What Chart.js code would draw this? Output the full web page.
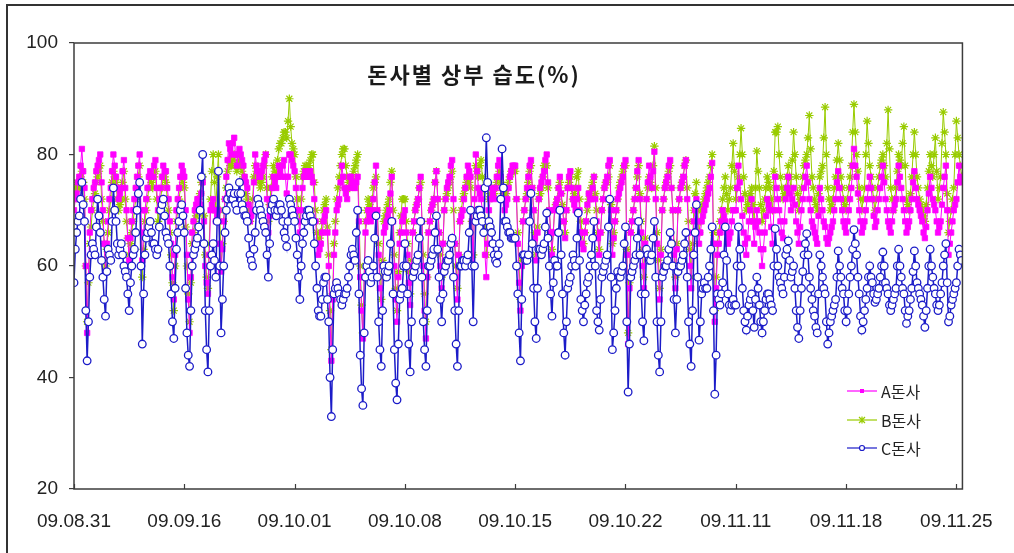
<!DOCTYPE html>
<html>
<head>
<meta charset="utf-8">
<script src="https://cdn.jsdelivr.net/npm/chart.js@4.4.0/dist/chart.umd.min.js"></script>
<style>
  html, body { margin: 0; padding: 0; background: #ffffff; }
  #wrap { width: 1014px; height: 553px; position: relative; }
</style>
</head>
<body>
<div id="wrap"><canvas id="chart" width="1014" height="553"></canvas></div>
<script>
// Date labels under the axis, one every 84 readings (7 days x 12 readings)
const tickLabels = ['09.08.31', '09.09.16', '09.10.01', '09.10.08', '09.10.15', '09.10.22', '09.11.11', '09.11.18', '09.11.25'];
const readingsPerTick = 84;

const seriesNames = ['A돈사', 'B돈사', 'C돈사'];
const chartTitle = '돈사별 상부 습도(%)';

// Upper-level relative humidity (%) per house, one reading every 2 hours
const humidityA = [
  70,72, 73,75, 76,78, 81,77, 74,60, 48,58, 66,70, 72,74, 75,77, 78,79,
  80,75, 70,64, 59,64, 68,72, 74,77, 80,78, 76,74, 72,73, 74,77, 79,74,
  70,65, 61,65, 68,70, 72,74, 76,78, 80,70, 61,66, 70,72, 74,76, 77,76,
  76,78, 79,74, 70,72, 74,76, 78,77, 77,74, 72,68, 64,58, 54,62, 70,72,
  74,76, 78,77,
  76,70, 62,54, 48,58, 66,68, 70,71, 72,72, 71,73, 75,68, 60,57, 55,62,
  70,71, 72,70, 68,69, 70,64, 59,63, 68,72, 76,79, 82,81, 80,82, 83,80,
  78,80, 81,80, 79,78, 76,75, 74,71, 68,69, 70,75, 80,78, 77,76, 76,77,
  78,79, 80,72, 66,69, 72,74, 76,75, 74,76, 78,77, 76,78, 79,76, 73,76,
  80,80, 79,78,
  77,74, 70,68, 66,70, 74,76, 77,76, 76,77, 77,76, 75,72, 68,64, 62,63,
  64,66, 68,69, 70,66, 60,50, 43,54, 62,66, 70,71, 72,75, 78,76, 74,73,
  72,74, 76,76, 75,74, 74,75, 76,68, 58,52, 47,58, 66,68, 70,69, 68,70,
  72,75, 78,70, 62,56, 52,60, 66,67, 68,69, 70,73, 76,68, 60,54, 50,58,
  64,66, 68,69,
  70,66, 62,57, 53,60, 66,68, 70,71, 72,74, 76,68, 60,52, 47,58, 66,68,
  70,71, 72,75, 77,72, 66,60, 56,64, 70,72, 74,75, 76,78, 79,72, 64,58,
  54,62, 68,69, 70,72, 74,76, 78,77, 76,68, 60,72, 80,77, 74,73, 72,70,
  68,62, 58,64, 70,72, 74,73, 72,74, 76,78, 79,76, 74,72, 70,71, 72,74,
  76,77, 78,78,
  78,72, 64,57, 52,60, 68,70, 72,74, 76,78, 79,74, 70,65, 61,66, 72,74,
  75,76, 77,79, 80,75, 70,66, 62,66, 70,71, 72,74, 76,73, 70,68, 65,70,
  74,76, 77,74, 72,71, 70,72, 74,70, 66,64, 63,66, 68,71, 73,72, 72,74,
  76,72, 68,65, 62,66, 70,72, 74,75, 76,78, 79,70, 62,65, 68,70, 72,73,
  74,75, 76,78,
  79,62, 46,56, 66,68, 70,72, 74,77, 79,72, 66,60, 56,64, 72,75, 78,76,
  74,77, 80.5,72, 64,58, 54,62, 70,72, 74,75, 76,78, 79,74, 70,62, 56,63,
  70,72, 74,75, 76,78, 79,72, 66,60, 56,62, 68,70, 72,68, 64,66, 68,69,
  70,71, 72,73, 74,76, 78.5,64, 50,56, 62,64, 66,68, 70,69, 68,66, 64,65,
  66,68, 70,70,
  70,74, 78,75, 72,69, 66,64, 62,65, 68,70, 72,68, 64,67, 70,68, 66,63,
  60,63, 66,69, 72,71, 70,67, 64,70, 76,74, 72,70, 68,66, 65,68, 72,74,
  76,73, 70,72, 74,71, 68,66, 64,67, 70,72, 74,76, 78,75, 72,70, 68,67,
  66,65, 64,69, 74,72, 70,68, 67,65, 64,65, 66,67, 68,70, 72,75, 77,74,
  72,70, 68,67,
  66,68, 70,72, 74,78, 81,78, 76,73, 70,68, 66,67, 68,70, 72,74, 76,74,
  72,69, 67,68, 70,72, 74,76, 78,75, 72,70, 68,67, 66,68, 70,71, 72,75,
  78,76, 74,72, 70,68, 66,67, 68,70, 72,75, 77,74, 72,71, 70,69, 68,66,
  65,67, 70,73, 76,74, 72,71, 70,68, 66,67, 68,71, 74,76, 78,70, 62,64,
  66,68, 70,71, 72,75, 78,76, 75
];

const humidityB = [
  72,74, 75,74, 74,76, 77,75, 72,60, 50,57, 64,67, 70,72, 73,75, 76,77,
  78,72, 68,64, 60,63, 66,70, 72,75, 77,76, 75,72, 70,71, 72,75, 77,72,
  68,65, 62,64, 66,68, 70,72, 74,76, 78,66, 58,63, 68,70, 72,74, 76,75,
  74,76, 77,72, 68,70, 72,74, 76,76, 75,72, 70,66, 62,57, 52,60, 68,70,
  72,74, 76,75,
  74,67, 60,55, 50,57, 64,66, 68,69, 70,72, 73,75, 76,69, 62,58, 56,64,
  72,77, 80,75, 70,76, 80,70, 60,64, 68,72, 74,77, 79,78, 78,79, 80,78,
  77,78, 79,78, 77,76, 75,73, 72,70, 68,70, 72,76, 78,77, 76,75, 74,75,
  76,78, 80,74, 68,71, 74,76, 78,77, 76,79, 81,82, 82,83, 84,84, 83,86,
  90,85, 82,81,
  80,76, 72,70, 68,72, 76,77, 78,78, 77,78, 79,80, 80,75, 70,66, 64,65,
  66,68, 70,71, 72,67, 62,52, 45,55, 64,68, 72,74, 76,78, 80,81, 81,78,
  76,75, 74,75, 76,77, 78,79, 80,70, 60,53, 48,58, 68,70, 72,71, 70,72,
  74,75, 76,70, 64,58, 54,61, 68,69, 70,71, 72,75, 77,70, 62,56, 52,59,
  66,69, 72,72,
  72,68, 64,59, 55,61, 66,68, 70,71, 72,74, 75,68, 62,55, 50,58, 66,68,
  70,71, 72,75, 77,72, 66,62, 58,64, 70,72, 73,74, 75,76, 77,70, 64,60,
  56,62, 68,70, 72,73, 74,75, 76,75, 74,68, 62,70, 78,77, 76,78, 79,76,
  74,68, 62,67, 72,73, 74,73, 73,74, 75,76, 77,75, 74,73, 72,73, 74,75,
  76,77, 77,77,
  77,72, 66,60, 54,61, 68,70, 72,73, 75,77, 78,74, 70,66, 62,67, 72,73,
  74,76, 78,78, 78,74, 70,66, 63,66, 70,71, 72,74, 75,73, 71,68, 66,70,
  74,75, 76,74, 72,73, 74,76, 77,72, 68,66, 64,66, 68,70, 72,73, 74,75,
  76,73, 70,66, 63,66, 70,72, 74,75, 75,76, 78,71, 64,66, 68,70, 72,74,
  75,76, 77,78,
  78,63, 48,57, 66,68, 70,72, 74,76, 78,73, 68,63, 58,65, 72,74, 76,75,
  74,78, 81.5,74, 66,61, 56,63, 70,72, 74,75, 76,77, 78,74, 70,64, 58,64,
  70,72, 74,75, 76,78, 79,74, 68,63, 58,64, 70,73, 75,70, 66,68, 70,71,
  72,73, 74,75, 76,78, 80,66, 52,58, 64,66, 68,70, 72,74, 76,73, 70,72,
  74,78, 82,77,
  72,74, 76,80, 84.7,80, 76,73, 70,71, 72,73, 74,71, 68,74, 80.6,77, 74,71,
  68,70, 72,74, 76,75, 74,72, 70,77, 84,84, 85,80, 76,74, 72,73, 74,76,
  78,76, 74,79, 84,80, 76,73, 70,72, 74,76, 78,79, 80,83, 87,81, 76,74,
  72,71, 70,73, 76,77, 78,83, 88.5,80, 74,72, 70,71, 72,74, 76,79, 82,79,
  76,74, 72,71,
  70,72, 74,76, 78,84, 89,84, 80,77, 74,72, 70,72, 74,80, 86,82, 78,76,
  74,72, 70,72, 74,76, 78,79, 80,78, 76,82, 88,81, 74,72, 70,72, 74,77,
  80,79, 78,82, 85,78, 72,71, 70,73, 76,80, 84,80, 76,74, 72,71, 70,69,
  68,71, 74,77, 80,78, 76,80, 83,77, 72,74, 76,82, 87.6,84, 80,73, 66,68,
  70,72, 74,80, 86,83, 80,78, 76
];

const humidityC = [
  57,63, 66,68, 69,72, 75,71, 68,52, 43,50, 58,62, 64,63, 62,67, 72,69,
  66,61, 58,54, 51,59, 63,62, 61,68, 74,70, 68,64, 62,63, 64,62, 60,59,
  58,55, 52,57, 60,62, 63,66, 70,73, 75,60, 46,55, 62,65, 66,67, 68,66,
  64,64, 63,62, 63,67, 70,71, 72,69, 66,65, 64,60, 55,50, 47,56, 63,66,
  68,70, 71,69,
  66,56, 48,44, 42,52, 60,62, 63,64, 65,67, 70,76, 80,64, 52,45, 41,52,
  60,62, 64,61, 58,68, 77,60, 48,54, 60,66, 70,72, 74,73, 72,72, 73,71,
  70,73, 75,73, 71,70, 69,69, 68,65, 62,61, 60,63, 66,70, 72,71, 70,69,
  68,67, 66,62, 58,64, 70,71, 72,70, 69,70, 71,71, 70,68, 66,65, 63.5,68,
  72,71, 70,69,
  68,65, 62,58, 54,60, 64,66, 68,69, 70,70, 69,68, 68,64, 60,56, 52,51,
  51,54, 57,58, 58,54, 50,40, 33,45, 55,56, 57,56, 55,54, 53,54, 55,55,
  56,58, 60,62, 63,62, 61,66, 70,55, 44,38, 35,48, 58,60, 61,59, 57,58,
  60,65, 69,58, 50,45, 42,52, 60,59, 58,59, 60,64, 68,55, 45,39, 36,46,
  54,55, 56,60,
  64,60, 55,46, 41,50, 58,59, 60,61, 62,65, 68,58, 50,45, 42,52, 60,60,
  61,62, 63,66, 69,63, 58,54, 50,55, 59,60, 61,61, 62,64, 65,58, 52,46,
  42,52, 60,60, 61,61, 60,61, 62,66, 70,60, 50,60, 68,69, 70,70, 69,68,
  66,74, 83,75, 68,67, 66,64, 62,61, 60.5,62, 64,72, 81,74, 68,68, 67,66,
  66,65, 65,65,
  65,60, 55,48, 43,54, 62,62, 61,61, 62,68, 73,64, 56,50, 47,56, 63,63,
  62,63, 64,67, 69.5,65, 60,55, 51,57, 61,60, 60,66, 70,62, 55,48, 44,50,
  56,57, 58,60, 62,61, 60,65, 69.5,61, 54,52, 50,53, 55,57, 58,60, 62,65,
  68,60, 52,50, 48.5,54, 58,59, 60,61, 62,67, 72,58, 45,48, 52,56, 59,58,
  58,59, 60,64,
  67,50, 37.4,46, 58,59, 60,61, 62,65, 68,62, 55,50, 46.6,55, 63,62, 61,61,
  62,65, 68,58, 50,44, 41,50, 58,59, 60,60, 61,63, 66,64, 60,54, 48,54,
  59,60, 60,61, 62,64, 66,58, 50,46, 42,52, 62,66, 71,58, 46.7,50, 55,56,
  57,56, 56,58, 60,63, 67,52, 37,44, 55,54, 53,55, 57,62, 67,61, 55,53,
  52,53, 54,53,
  53,60, 67,63, 60,56, 52,50, 48.5,51, 53,54, 55,52, 49,54, 58,56, 53,50,
  48,50, 52,54, 55,55, 54,53, 52,60, 66.7,63, 60,58, 57,56, 55,58, 62,63,
  64.5,61, 58,59, 60,56, 52,49, 47,52, 56,59, 62,64, 65.8,62, 58,56, 54,52,
  51,49, 48,55, 62,60, 58,56, 55,50, 46,48, 50,51, 52,53, 54,58, 62.7,60,
  58,56, 55,52,
  50,52, 55,58, 60,63, 66.5,64, 62,58, 55,51, 48.5,50, 52,54, 56,58, 60,58,
  57,55, 53.5,54, 55,56, 58,60, 62.5,60, 57,56, 55,53, 52,53, 54,55, 56,60,
  63,60, 58,56, 55,52, 49.7,51, 52,54, 56,59, 62.7,60, 57,56, 55,54, 53,51,
  49,52, 56,60, 63,60, 58,56, 55,53, 52,53, 55,57, 60,62, 64,57, 50,51,
  53,54, 55,56, 57,60, 63,62, 61
];

const colorA = '#ff00ff';
const colorB = '#99cc00';
const colorC = '#1c1cc8';
const frameColor = '#3c3c3c';
const axisFont = "'Liberation Sans', Arial, sans-serif";
const krFont = "'Noto Sans CJK KR', 'Noto Sans', sans-serif";

const toPoints = arr => arr.map((v, i) => ({ x: i, y: v }));
const lastIndex = humidityA.length - 1;

// Page background, outer frame, plot box, inward x tick marks, title and legend
const decorations = {
  id: 'decorations',
  beforeDraw(chart) {
    const ctx = chart.ctx;
    ctx.save();
    ctx.fillStyle = '#ffffff';
    ctx.fillRect(0, 0, chart.width, chart.height);
    ctx.strokeStyle = '#333333';
    ctx.lineWidth = 2;
    ctx.beginPath();
    ctx.moveTo(7, chart.height);
    ctx.lineTo(7, 5);
    ctx.lineTo(chart.width, 5);
    ctx.stroke();
    ctx.restore();
  },
  afterDraw(chart) {
    const ctx = chart.ctx;
    const area = chart.chartArea;
    const xs = chart.scales.x;
    ctx.save();
    ctx.strokeStyle = frameColor;
    ctx.lineWidth = 1.5;
    ctx.strokeRect(area.left, area.top, area.right - area.left, area.bottom - area.top);
    ctx.lineWidth = 1.2;
    tickLabels.forEach((_, k) => {
      const px = Math.round(xs.getPixelForValue(k * readingsPerTick)) + 0.5;
      ctx.beginPath();
      ctx.moveTo(px, area.bottom);
      ctx.lineTo(px, area.bottom - 5);
      ctx.stroke();
    });

    // title inside the plot box
    ctx.fillStyle = '#1a1a1a';
    ctx.font = '600 22px ' + krFont;
    ctx.letterSpacing = '2px';
    ctx.textAlign = 'center';
    ctx.textBaseline = 'middle';
    ctx.fillText(chartTitle, 474, 75);
    ctx.letterSpacing = '0px';

    // legend in the lower right of the plot box
    const colors = [colorA, colorB, colorC];
    const rows = [391, 420, 448];
    ctx.font = '16px ' + krFont;
    ctx.textAlign = 'left';
    rows.forEach((y, k) => {
      ctx.strokeStyle = colors[k];
      ctx.lineWidth = 1.2;
      ctx.beginPath();
      ctx.moveTo(847, y);
      ctx.lineTo(877, y);
      ctx.stroke();
      const cx = 862;
      if (k === 0) {
        ctx.fillStyle = colors[k];
        ctx.fillRect(cx - 2, y - 2, 4, 4);
      } else if (k === 1) {
        ctx.beginPath();
        ctx.moveTo(cx - 3, y - 3); ctx.lineTo(cx + 3, y + 3);
        ctx.moveTo(cx + 3, y - 3); ctx.lineTo(cx - 3, y + 3);
        ctx.moveTo(cx, y - 3.5); ctx.lineTo(cx, y + 3.5);
        ctx.stroke();
      } else {
        ctx.fillStyle = '#ffffff';
        ctx.beginPath();
        ctx.arc(cx, y, 2.5, 0, Math.PI * 2);
        ctx.fill();
        ctx.stroke();
      }
      ctx.fillStyle = '#222222';
      ctx.fillText(seriesNames[k], 881, y + 1);
    });
    ctx.restore();
  }
};

new Chart(document.getElementById('chart'), {
  type: 'line',
  data: {
    datasets: [
      {
        label: seriesNames[0],
        data: toPoints(humidityA),
        borderColor: colorA,
        backgroundColor: colorA,
        borderWidth: 1,
        pointStyle: 'rect',
        pointRadius: 3.8,
        pointBorderWidth: 0.8,
        pointBackgroundColor: colorA,
        pointBorderColor: colorA,
        order: 1
      },
      {
        label: seriesNames[1],
        data: toPoints(humidityB),
        borderColor: colorB,
        backgroundColor: colorB,
        borderWidth: 1,
        pointStyle: 'star',
        pointRadius: 4.2,
        pointBorderWidth: 1.2,
        pointBorderColor: colorB,
        order: 2
      },
      {
        label: seriesNames[2],
        data: toPoints(humidityC),
        borderColor: colorC,
        backgroundColor: colorC,
        borderWidth: 1.5,
        pointStyle: 'circle',
        pointRadius: 3.8,
        pointBorderWidth: 1.3,
        pointBackgroundColor: '#ffffff',
        pointBorderColor: colorC,
        order: 0
      }
    ]
  },
  options: {
    responsive: false,
    animation: false,
    events: [],
    layout: { padding: { left: 0, top: 43, right: 48, bottom: 0 } },
    elements: { line: { tension: 0 } },
    plugins: {
      legend: { display: false },
      title: { display: false },
      tooltip: { enabled: false }
    },
    scales: {
      x: {
        type: 'linear',
        min: 0,
        max: lastIndex + 0.6,
        afterFit(scale) { scale.height = 64; },
        afterBuildTicks(scale) {
          scale.ticks = tickLabels.map((_, k) => ({ value: k * readingsPerTick }));
        },
        grid: { display: false, drawTicks: false },
        border: { display: false },
        ticks: {
          autoSkip: false,
          maxRotation: 0,
          padding: 21,
          color: '#222222',
          font: { family: axisFont, size: 19 },
          callback: v => tickLabels[Math.round(v / readingsPerTick)]
        }
      },
      y: {
        min: 20,
        max: 100,
        afterFit(scale) { scale.width = 74; },
        grid: { display: true, drawOnChartArea: false, drawTicks: true, tickLength: 5, color: frameColor, lineWidth: 1.2 },
        border: { display: false },
        ticks: {
          stepSize: 20,
          padding: 11,
          color: '#222222',
          font: { family: axisFont, size: 19 }
        }
      }
    }
  },
  plugins: [decorations]
});
</script>
</body>
</html>
